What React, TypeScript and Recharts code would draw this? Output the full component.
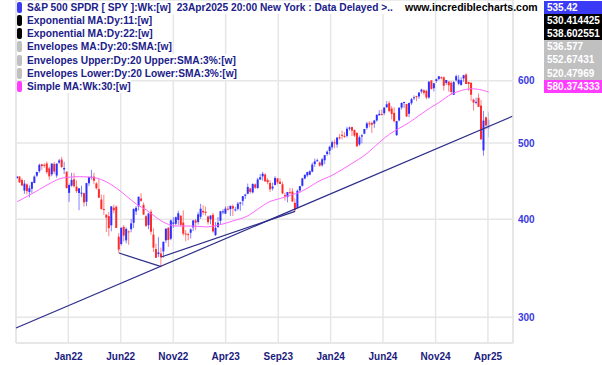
import React from "react";
import { ComposedChart, Bar, Line, XAxis, YAxis, CartesianGrid, ReferenceLine } from "recharts";

// Weekly SPY bars [open, high, low, close], from the week of 30 Aug 2021
const bars2021 = [
  [451.0, 454.1, 450.2, 453.1], [453.3, 453.3, 444.9, 445.4], [448.6, 451.0, 441.0, 441.4],
  [434.9, 448.4, 430.9, 443.9], [442.8, 444.1, 430.0, 434.2], [433.0, 441.7, 426.4, 437.9],
  [437.2, 446.3, 431.5, 445.9], [444.8, 454.7, 444.3, 453.1], [454.3, 459.6, 452.4, 459.3],
  [460.3, 470.7, 458.2, 468.9], [469.7, 470.2, 462.0, 467.3], [469.0, 470.9, 465.1, 468.9],
  [470.9, 473.5, 456.4, 459.0], [464.1, 466.6, 448.9, 453.4], [456.1, 470.9, 453.6, 470.7],
  [470.2, 472.9, 456.7, 459.9], [454.5, 470.9, 451.5, 470.6], [472.1, 477.3, 470.1, 475.0],
];
const bars2022 = [
  [476.3, 480.0, 464.5, 466.1], [462.7, 473.2, 456.6, 464.7], [459.7, 459.9, 437.9, 438.0],
  [432.0, 444.0, 420.8, 442.0], [441.2, 458.1, 439.8, 448.7], [449.5, 457.9, 438.9, 440.5],
  [439.9, 448.1, 431.8, 434.2], [431.9, 438.2, 410.6, 437.8], [432.0, 441.1, 427.1, 432.2],
  [431.6, 432.3, 415.1, 420.1], [420.9, 444.9, 415.8, 444.5], [444.3, 453.0, 440.7, 452.7],
  [452.1, 462.1, 449.1, 452.9], [453.1, 458.1, 443.5, 447.6], [444.1, 445.8, 436.3, 437.8],
  [436.8, 450.0, 425.4, 426.0], [423.7, 429.6, 411.2, 412.0], [412.1, 429.7, 405.0, 411.3],
  [405.1, 406.4, 385.2, 401.7], [403.5, 408.6, 380.5, 389.6], [392.8, 415.4, 386.0, 415.3],
  [413.6, 417.4, 406.9, 410.5], [414.8, 416.6, 389.8, 389.8], [379.9, 383.9, 362.2, 365.9],
  [371.9, 390.1, 370.3, 390.1], [391.1, 393.2, 374.7, 381.2], [375.9, 390.6, 372.6, 388.7],
  [385.9, 386.9, 371.0, 385.1], [388.4, 400.2, 384.9, 395.1], [395.8, 413.0, 389.8, 412.0],
  [409.2, 415.7, 404.9, 413.5], [415.3, 427.2, 410.4, 427.1], [424.8, 431.7, 420.8, 422.1],
  [417.1, 419.9, 405.3, 405.3], [403.4, 405.1, 390.8, 392.2], [393.1, 407.5, 388.4, 406.6],
  [408.8, 411.7, 382.1, 385.6], [382.3, 389.3, 363.3, 368.0], [366.4, 372.3, 357.0, 357.2],
  [361.1, 379.5, 358.0, 362.8], [361.7, 368.0, 348.1, 357.7], [364.0, 374.8, 357.3, 374.3],
  [375.9, 389.5, 373.1, 389.0], [390.1, 390.4, 368.8, 376.4], [377.7, 399.4, 376.0, 398.5],
  [394.6, 402.3, 390.0, 396.0], [394.6, 403.1, 392.4, 402.3], [399.1, 410.0, 393.3, 406.9],
  [403.9, 404.9, 391.6, 393.3], [396.0, 410.5, 381.0, 383.3], [383.5, 387.4, 374.8, 382.9],
  [382.8, 384.4, 376.1, 382.4],
];
const bars2023 = [
  [384.4, 389.3, 377.8, 388.1], [390.4, 399.1, 386.3, 398.5], [398.5, 400.2, 387.3, 395.9],
  [396.7, 408.2, 393.6, 405.7], [402.8, 418.3, 400.3, 412.4], [409.8, 416.5, 405.0, 408.0],
  [408.7, 415.1, 404.1, 407.3], [403.1, 404.2, 393.6, 396.4], [399.9, 404.5, 394.0, 404.2],
  [405.1, 407.5, 384.3, 385.9], [381.8, 396.5, 380.7, 390.0], [390.8, 402.5, 390.1, 395.8],
  [398.1, 409.7, 393.7, 409.4], [408.9, 411.9, 405.7, 409.2], [406.6, 415.1, 405.9, 412.5],
  [412.4, 415.7, 410.2, 412.2], [411.9, 416.2, 403.8, 415.9], [415.5, 417.6, 403.7, 412.6],
  [411.1, 414.5, 408.9, 411.6], [412.2, 420.7, 410.2, 418.6], [418.6, 420.8, 409.9, 420.0],
  [422.0, 428.0, 416.2, 427.9], [428.3, 431.0, 424.2, 429.9], [430.9, 443.9, 430.2, 439.5],
  [437.5, 438.4, 431.0, 433.2], [432.6, 444.3, 431.2, 443.3], [442.9, 444.1, 437.1, 438.6],
  [438.2, 451.4, 437.1, 449.3], [449.1, 456.4, 449.1, 452.2], [453.4, 459.4, 447.8, 456.9],
  [455.8, 457.8, 446.3, 446.8], [448.7, 451.0, 442.9, 445.7], [444.7, 448.1, 433.0, 436.5],
  [437.6, 445.2, 435.0, 440.0], [442.2, 453.7, 441.5, 451.2], [450.7, 451.1, 442.8, 445.5],
  [446.4, 451.1, 443.3, 443.4], [443.0, 446.3, 430.4, 431.4], [429.2, 432.3, 422.3, 427.5],
  [426.6, 433.0, 420.2, 433.0], [432.9, 438.1, 431.0, 431.5], [433.8, 438.1, 420.7, 421.2],
  [419.6, 425.0, 409.2, 410.7], [413.6, 436.3, 412.2, 434.7], [435.0, 440.9, 432.4, 440.6],
  [441.1, 451.4, 440.0, 450.8], [450.5, 456.4, 449.6, 455.3], [454.7, 459.6, 452.5, 459.1],
  [455.6, 461.5, 454.8, 460.2], [459.7, 472.0, 458.8, 469.3], [470.0, 477.4, 466.2, 473.7],
  [474.1, 477.6, 473.3, 475.3],
];
const bars2024 = [
  [472.2, 473.7, 466.4, 467.9], [468.4, 478.6, 466.4, 476.7], [475.3, 482.7, 469.9, 482.4],
  [484.0, 489.1, 481.5, 487.4], [488.6, 496.1, 482.9, 494.4], [493.7, 503.5, 490.2, 501.2],
  [500.9, 505.1, 492.3, 499.5], [497.7, 508.8, 493.1, 507.9], [508.3, 513.3, 504.8, 508.1],
  [512.0, 518.2, 505.3, 511.7], [510.5, 516.0, 507.6, 509.8], [510.5, 524.1, 508.1, 521.2],
  [521.2, 524.6, 518.5, 523.1], [523.8, 524.4, 510.3, 518.4], [519.2, 520.4, 508.7, 510.9],
  [515.1, 515.3, 493.9, 495.2], [497.8, 511.0, 495.8, 508.3], [509.5, 513.5, 499.5, 511.3],
  [513.8, 521.0, 512.9, 520.8], [522.6, 531.9, 519.7, 529.5], [529.6, 533.1, 523.5, 529.4],
  [530.3, 532.2, 515.0, 527.4], [529.0, 535.0, 522.6, 534.0], [534.1, 544.0, 532.1, 542.8],
  [542.1, 550.3, 542.0, 544.5], [544.3, 551.4, 542.0, 544.2], [545.6, 555.1, 542.3, 554.6],
  [555.4, 565.2, 553.9, 560.0], [562.0, 565.2, 546.9, 549.0], [553.0, 557.0, 535.6, 544.4],
  [546.0, 555.0, 531.0, 532.9], [511.6, 533.6, 510.3, 533.0], [534.2, 555.0, 532.6, 554.3],
  [554.7, 563.2, 551.4, 562.1], [563.2, 564.2, 553.9, 563.7], [560.5, 560.8, 539.4, 540.4],
  [544.6, 563.0, 539.0, 562.0], [561.7, 570.4, 559.0, 568.3], [570.4, 574.7, 566.9, 571.5],
  [573.4, 574.1, 565.0, 573.0], [572.9, 580.0, 568.9, 579.6], [581.2, 586.1, 578.0, 584.6],
  [583.3, 585.0, 575.6, 579.0], [582.6, 584.3, 568.1, 571.0], [571.3, 599.2, 568.9, 598.2],
  [600.5, 600.9, 584.5, 585.8], [587.0, 596.2, 581.5, 595.5], [599.5, 603.4, 596.4, 602.6],
  [602.9, 608.0, 601.1, 607.8], [606.0, 607.8, 602.1, 604.2], [606.0, 607.8, 583.0, 591.2],
  [596.1, 601.3, 592.5, 601.3], [598.5, 599.0, 580.9, 592.0],
];
const bars2025 = [
  [596.3, 599.4, 575.4, 580.5], [575.8, 599.4, 575.4, 597.6], [600.7, 610.8, 598.7, 608.0],
  [594.8, 609.9, 592.0, 601.8], [592.7, 606.0, 591.2, 600.8], [604.0, 610.5, 598.0, 609.7],
  [610.9, 613.2, 594.0, 594.2], [597.8, 598.0, 582.4, 594.2], [596.2, 597.3, 565.6, 575.9],
  [567.6, 569.5, 549.7, 562.8], [562.8, 570.9, 559.7, 564.0], [570.8, 578.0, 555.6, 555.7],
  [557.9, 566.9, 505.0, 505.3], [489.2, 549.0, 481.8, 533.9], [539.0, 539.8, 520.0, 526.4],
  [521.2, 547.0, 508.4, 535.4],
];

// 30-week simple moving average, read at [bar index, value]
const smaPoints = [
  [0, 421], [6, 431], [12, 442], [18, 451], [25, 453], [32, 451], [36, 446], [40, 438],
  [44, 428], [48, 418], [52, 411], [56, 402], [60, 395], [64, 392], [70, 392], [76, 391],
  [81, 393], [87, 398], [93, 404], [97, 412], [101, 420], [106, 425], [110, 429], [114, 433],
  [118, 440], [121, 446], [127, 455], [134, 469], [141, 485], [146, 501], [150, 513],
  [154, 522], [158, 531], [162, 542], [166, 553], [170, 563], [175, 577], [179, 583],
  [183, 586], [186, 585], [190, 580.4],
];

// trend lines drawn on the chart: [bar index, price] pairs
const trendLines = [
  [[-0.5, 290.8], [199.8, 541]],
  [[41, 362.2], [58, 348.1]],
  [[58, 358], [112, 409.2]],
];

const tickPos = [20.6, 41.7, 62.9, 84.0, 105.2, 126.3, 147.4, 168.6, 189.7];
const tickLabels = ["Jan22", "Jun22", "Nov22", "Apr23", "Sep23", "Jan24", "Jun24", "Nov24", "Apr25"];
const priceTicks = [300, 400, 500, 600];

const legendNames = [
  "S&P 500 SPDR [ SPY ]:Wk:[w]  23Apr2025 20:00 New York : Data Delayed >..",
  "Exponential MA:Dy:11:[w]",
  "Exponential MA:Dy:22:[w]",
  "Envelopes MA:Dy:20:SMA:[w]",
  "Envelopes Upper:Dy:20 Upper:SMA:3%:[w]",
  "Envelopes Lower:Dy:20 Lower:SMA:3%:[w]",
  "Simple MA:Wk:30:[w]",
];
const legendValues = ["535.42", "530.414425", "538.602551", "536.577", "552.67431", "520.47969", "580.374333"];
const legendColors = ["#3b3bf5", "#000000", "#000000", "#c0c0c0", "#c0c0c0", "#c0c0c0", "#ff3cff"];

const allBars = [...bars2021, ...bars2022, ...bars2023, ...bars2024, ...bars2025];
const smaMap = new Map(smaPoints.map(([i, v]) => [i, v]));
const chartData = allBars.map(([o, h, l, c], j) => ({
  j,
  range: [l, h],
  o,
  h,
  l,
  c,
  partial: j === allBars.length - 1,
  sma: smaMap.has(j) ? smaMap.get(j) : null,
}));

const FONT = "'Liberation Sans', Arial, sans-serif";

function Candle(props: any) {
  const { x, y, width, height, payload } = props;
  if (x == null || y == null || !payload) return null;
  const { o, h, l, c, partial } = payload;
  const top = Math.min(y, y + height);
  const bottom = Math.max(y, y + height);
  const span = Math.log(h) - Math.log(l);
  const py = (p: number) => (span > 0 ? top + ((Math.log(h) - Math.log(p)) / span) * (bottom - top) : top);
  const cx = x + width / 2;
  const color = partial ? "#a3abe3" : c >= o ? "#2f2fff" : "#ff2b2b";
  const bTop = Math.min(py(o), py(c));
  const bH = Math.max(1, Math.abs(py(o) - py(c)));
  return (
    <g>
      <line x1={cx} x2={cx} y1={top} y2={bottom} stroke={color} strokeWidth={1} strokeOpacity={0.6} />
      <rect x={cx - 1} y={bTop} width={2} height={bH} fill={color} />
    </g>
  );
}

export default function App() {
  return (
    <div style={{ position: "absolute", left: 0, top: 0, width: 602, height: 365, background: "#fff", fontFamily: FONT }}>
      <ComposedChart width={602} height={365} data={chartData} margin={{ top: 0, right: 0, bottom: 0, left: 16 }}>
        <CartesianGrid stroke="#e6e6e6" strokeWidth={1.5} />
        <XAxis
          type="number"
          dataKey="j"
          domain={[-0.5, 199.8]}
          allowDataOverflow
          ticks={tickPos}
          tickFormatter={(v) => tickLabels[tickPos.indexOf(v)]}
          tickLine={false}
          tickSize={0}
          axisLine={{ stroke: "#e6e6e6", strokeWidth: 1.5 }}
          height={22}
          tickMargin={10}
          tick={{ fill: "#1b1b7d", fontSize: 10, fontWeight: "bold", fontFamily: FONT }}
        />
        <YAxis
          orientation="right"
          scale="log"
          domain={[278.3, 760]}
          allowDataOverflow
          ticks={priceTicks}
          tickLine={false}
          tickSize={0}
          axisLine={{ stroke: "#e6e6e6", strokeWidth: 1.5 }}
          width={89}
          tickMargin={5}
          tick={{ fill: "#3a3ae0", fontSize: 10, fontWeight: "bold", fontFamily: FONT }}
        />
        <ReferenceLine x={-0.5} stroke="#e6e6e6" strokeWidth={1.5} />
        <Bar dataKey="range" barSize={2} shape={<Candle />} isAnimationActive={false} />
        <Line
          dataKey="sma"
          type="monotone"
          connectNulls
          dot={false}
          stroke="#ff66ff"
          strokeWidth={1}
          isAnimationActive={false}
        />
        {trendLines.map(([a, b], i) => (
          <ReferenceLine
            key={i}
            segment={[{ x: a[0], y: a[1] }, { x: b[0], y: b[1] }]}
            stroke="#2e2e8a"
            strokeWidth={1.2}
            ifOverflow="visible"
          />
        ))}
      </ComposedChart>

      {legendNames.map((name, i) => (
        <div
          key={name}
          style={{ position: "absolute", left: 17, top: 0.7 + i * 13.2, height: 13.2, display: "flex", alignItems: "center" }}
        >
          <div style={{ width: 5, height: 11, borderRadius: 2, background: legendColors[i] }} />
          <span
            style={{
              marginLeft: 5,
              background: "#fff",
              color: "#20208a",
              fontSize: 10.2,
              fontWeight: "bold",
              lineHeight: "13px",
              whiteSpace: "pre",
            }}
          >
            {name}
          </span>
        </div>
      ))}
      <div
        style={{
          position: "absolute",
          left: 405,
          top: 0.7,
          height: 13.2,
          lineHeight: "13px",
          fontSize: 10.5,
          fontWeight: "bold",
          color: "#000",
        }}
      >
        www.incrediblecharts.com
      </div>
      {legendValues.map((v, i) => (
        <div
          key={v}
          style={{
            position: "absolute",
            left: 544,
            top: 0.5 + i * 13.2,
            width: 58,
            height: 13.3,
            lineHeight: "13.3px",
            background: legendColors[i],
            color: "#fff",
            fontSize: 10,
            fontWeight: "bold",
            paddingLeft: 3,
            boxSizing: "border-box",
          }}
        >
          {v}
        </div>
      ))}
    </div>
  );
}
